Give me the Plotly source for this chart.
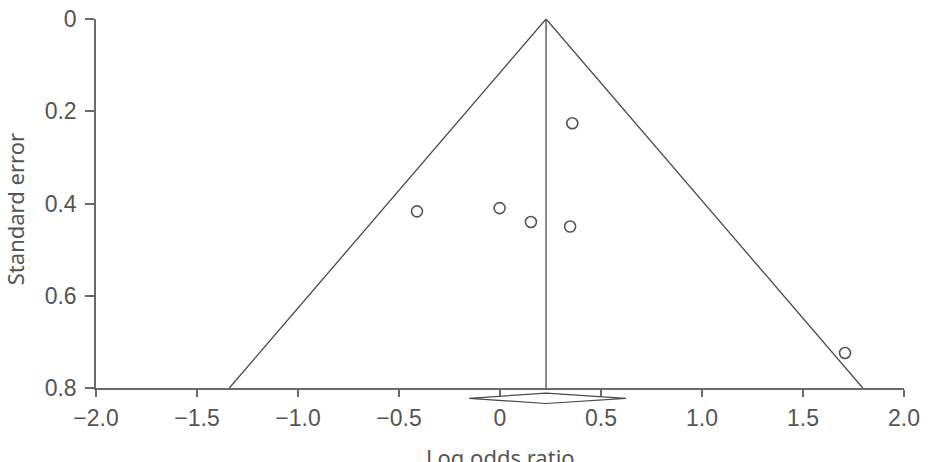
import plotly.graph_objects as go

# Study data (log odds ratio, standard error)
log_or = [0.358, -0.411, -0.002, 0.153, 0.347, 1.708]
std_err = [0.226, 0.417, 0.410, 0.440, 0.450, 0.724]

# Pooled estimate and its confidence interval
pooled = 0.228
ci_low = -0.153
ci_high = 0.624
se_max = 0.8

x_ticks = [-2.0, -1.5, -1.0, -0.5, 0, 0.5, 1.0, 1.5, 2.0]
x_ticktext = ["\u22122.0", "\u22121.5", "\u22121.0", "\u22120.5", "0", "0.5", "1.0", "1.5", "2.0"]
y_ticks = [0, 0.2, 0.4, 0.6, 0.8]
y_ticktext = ["0", "0.2", "0.4", "0.6", "0.8"]

line_col = "#4a4a4a"
axis_col = "#6a6a6a"
text_col = "#555555"
tick_font = dict(family="Liberation Sans, Arial, sans-serif", size=23, color=text_col)
title_font = dict(family="Noto Sans, sans-serif", size=22, color=text_col)

fig = go.Figure()

# Funnel (pseudo 95% CI limits)
fig.add_trace(go.Scatter(
    x=[pooled - 1.96 * se_max, pooled, pooled + 1.96 * se_max],
    y=[se_max, 0, se_max],
    mode="lines", line=dict(color=line_col, width=1.3),
    hoverinfo="skip", showlegend=False, cliponaxis=False))

# Vertical line at pooled estimate
fig.add_trace(go.Scatter(
    x=[pooled, pooled], y=[0, se_max],
    mode="lines", line=dict(color=line_col, width=1.3),
    hoverinfo="skip", showlegend=False))

# Studies
fig.add_trace(go.Scatter(
    x=log_or, y=std_err, mode="markers",
    marker=dict(symbol="circle-open", size=11, color="#555555", line=dict(width=1.6)),
    showlegend=False, cliponaxis=False))

# Summary diamond below the axis (x in data, y in paper)
d_mid = -0.028
d_half = 0.014
fig.add_shape(
    type="path", xref="x", yref="paper",
    path=(f"M {ci_low},{d_mid} L {pooled},{d_mid + d_half} "
          f"L {ci_high},{d_mid} L {pooled},{d_mid - d_half} Z"),
    line=dict(color=line_col, width=1.2), fillcolor="white", layer="above")

fig.add_annotation(text="Standard error", xref="paper", yref="paper",
                   x=-0.1, y=0.485, xanchor="center", yanchor="middle",
                   textangle=-90, showarrow=False, font=title_font)
fig.add_annotation(text="Log odds ratio", xref="paper", yref="paper",
                   x=0.5, y=-0.14, xanchor="center", yanchor="top",
                   showarrow=False, font=title_font)

fig.update_layout(
    width=932, height=462,
    margin=dict(l=96, r=28, t=19, b=74, autoexpand=False),
    paper_bgcolor="white", plot_bgcolor="white",
    xaxis=dict(range=[-2.0, 2.0], tickvals=x_ticks, ticktext=x_ticktext,
               showgrid=False, zeroline=False, showline=True,
               linecolor=axis_col, linewidth=1.5,
               ticks="outside", ticklen=7, tickwidth=1.5, tickcolor=axis_col,
               tickfont=tick_font, fixedrange=True, ticklabelstandoff=2,
               automargin=False),
    yaxis=dict(range=[0.8, 0], tickvals=y_ticks, ticktext=y_ticktext,
               showgrid=False, zeroline=False, showline=True,
               linecolor=axis_col, linewidth=1.5,
               ticks="outside", ticklen=9, tickwidth=1.5, tickcolor=axis_col,
               tickfont=tick_font, fixedrange=True, ticklabelstandoff=4,
               automargin=False),
)

fig.write_html("out.html")
